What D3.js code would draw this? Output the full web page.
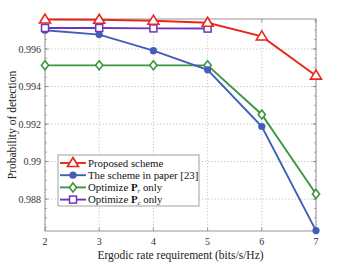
<!DOCTYPE html>
<html>
<head>
<meta charset="utf-8">
<script src="https://cdn.jsdelivr.net/npm/d3@7"></script>
<style>
  body { margin: 0; background: #fff; }
  text { font-family: "Liberation Serif", "DejaVu Serif", serif; }
</style>
</head>
<body>
<div id="chart"></div>
<script>
// chart data
var rates = [2, 3, 4, 5, 6, 7];
var proposed = [0.99757, 0.99756, 0.99751, 0.99740, 0.99667, 0.99458];
var paper23 = [0.99700, 0.99677, 0.99591, 0.99489, 0.99187, 0.98632];
var optPr = [0.99513, 0.99513, 0.99513, 0.99513, 0.99251, 0.98827];
var optPc = [0.99712, 0.99712, 0.99710, 0.99709];
var yTicks = [0.988, 0.99, 0.992, 0.994, 0.996];
var yTickLabels = ["0.988", "0.99", "0.992", "0.994", "0.996"];

var svgWidth = 349, svgHeight = 262;
var margin = { top: 19, right: 33, bottom: 31, left: 45 };
var chartWidth = svgWidth - margin.left - margin.right;
var chartHeight = svgHeight - margin.top - margin.bottom;

var svg = d3.select("#chart").append("svg")
  .attr("width", svgWidth)
  .attr("height", svgHeight);

var chartGroup = svg.append("g")
  .attr("transform", `translate(${margin.left}, ${margin.top})`);

var xScale = d3.scaleLinear().domain([2, 7]).range([0, chartWidth]);
var yScale = d3.scaleLinear().domain([0.9863, 0.9976]).range([chartHeight, 0]);

// grid
chartGroup.selectAll(".gx").data(rates).enter().append("line")
  .attr("x1", d => xScale(d)).attr("x2", d => xScale(d))
  .attr("y1", 0).attr("y2", chartHeight)
  .attr("stroke", "#b5b5b5").attr("stroke-width", 0.8)
  .attr("stroke-dasharray", "1.2,2");
chartGroup.selectAll(".gy").data(yTicks).enter().append("line")
  .attr("x1", 0).attr("x2", chartWidth)
  .attr("y1", d => yScale(d)).attr("y2", d => yScale(d))
  .attr("stroke", "#b5b5b5").attr("stroke-width", 0.8)
  .attr("stroke-dasharray", "1.2,2");

// minor ticks on y (left and right)
var minor = d3.range(0.9865, 0.9976, 0.0005);
[0, chartWidth].forEach(function(x0) {
  var dir = x0 === 0 ? 1 : -1;
  chartGroup.selectAll(null).data(minor).enter().append("line")
    .attr("x1", x0).attr("x2", x0 + dir * 2)
    .attr("y1", d => yScale(d)).attr("y2", d => yScale(d))
    .attr("stroke", "#777").attr("stroke-width", 0.6);
  chartGroup.selectAll(null).data(yTicks).enter().append("line")
    .attr("x1", x0).attr("x2", x0 + dir * 3.5)
    .attr("y1", d => yScale(d)).attr("y2", d => yScale(d))
    .attr("stroke", "#777").attr("stroke-width", 0.7);
});
// x ticks top and bottom
[0, chartHeight].forEach(function(y0) {
  var dir = y0 === 0 ? 1 : -1;
  chartGroup.selectAll(null).data(rates).enter().append("line")
    .attr("x1", d => xScale(d)).attr("x2", d => xScale(d))
    .attr("y1", y0).attr("y2", y0 + dir * 3.5)
    .attr("stroke", "#777").attr("stroke-width", 0.7);
});

// box
chartGroup.append("rect")
  .attr("width", chartWidth).attr("height", chartHeight)
  .attr("fill", "none").attr("stroke", "#8a8a8a").attr("stroke-width", 0.9);

// tick labels
chartGroup.selectAll(".xl").data(rates).enter().append("text")
  .attr("x", d => xScale(d)).attr("y", chartHeight + 14)
  .attr("text-anchor", "middle").attr("font-size", "10px").attr("fill", "#333")
  .text(d => d);
chartGroup.selectAll(".yl").data(yTicks).enter().append("text")
  .attr("x", -4).attr("y", d => yScale(d)).attr("dy", "0.35em")
  .attr("text-anchor", "end").attr("font-size", "10px").attr("fill", "#333")
  .text((d, i) => yTickLabels[i]);

// axis labels
chartGroup.append("text")
  .attr("x", chartWidth / 2).attr("y", chartHeight + 28)
  .attr("text-anchor", "middle").attr("font-size", "11.5px").attr("fill", "#222")
  .text("Ergodic rate requirement (bits/s/Hz)");
chartGroup.append("text")
  .attr("transform", "rotate(-90)")
  .attr("x", -chartHeight / 2).attr("y", -29)
  .attr("text-anchor", "middle").attr("font-size", "11.5px").attr("fill", "#222")
  .text("Probability of detection");

var series = [
  { name: "Proposed scheme", values: proposed, color: "#e8251f", marker: "triangle" },
  { name: "The scheme in paper [23]", values: paper23, color: "#3f5fb8", marker: "dot" },
  { name: "Optimize ", sub: "r", values: optPr, color: "#3d9640", marker: "diamond" },
  { name: "Optimize ", sub: "c", values: optPc, color: "#6f35bf", marker: "square" }
];

var line = d3.line().x((d, i) => xScale(rates[i])).y(d => yScale(d));

function drawMarker(g, type, color, x, y) {
  if (type === "triangle") {
    g.append("path").attr("d", `M${x},${y - 5.5}L${x + 5.5},${y + 3.5}L${x - 5.5},${y + 3.5}Z`)
      .attr("fill", "#fff").attr("stroke", color).attr("stroke-width", 1.6);
  } else if (type === "dot") {
    g.append("circle").attr("cx", x).attr("cy", y).attr("r", 3.6).attr("fill", color);
  } else if (type === "diamond") {
    g.append("path").attr("d", `M${x},${y - 4.5}L${x + 3.6},${y}L${x},${y + 4.5}L${x - 3.6},${y}Z`)
      .attr("fill", "#fff").attr("stroke", color).attr("stroke-width", 1.6);
  } else {
    g.append("rect").attr("x", x - 3.5).attr("y", y - 3.5).attr("width", 7).attr("height", 7)
      .attr("fill", "#fff").attr("stroke", color).attr("stroke-width", 1.5);
  }
}

// draw in order: green, blue, purple, red on top
[2, 1, 3, 0].forEach(function(k) {
  var s = series[k];
  var g = chartGroup.append("g");
  g.append("path").datum(s.values)
    .attr("d", line).attr("fill", "none")
    .attr("stroke", s.color).attr("stroke-width", 1.9);
  s.values.forEach(function(v, i) {
    drawMarker(g, s.marker, s.color, xScale(rates[i]), yScale(v));
  });
});

// legend
var legend = chartGroup.append("g").attr("transform", "translate(13, 136)");
legend.append("rect").attr("width", 141).attr("height", 51)
  .attr("fill", "#fff").attr("stroke", "#8a8a8a").attr("stroke-width", 0.8);
series.forEach(function(s, i) {
  var y = 8 + i * 12.2;
  var row = legend.append("g");
  row.append("line").attr("x1", 2).attr("x2", 28).attr("y1", y).attr("y2", y)
    .attr("stroke", s.color).attr("stroke-width", 1.9);
  drawMarker(row, s.marker, s.color, 15, y);
  var t = row.append("text").attr("x", 30).attr("y", y).attr("dy", "0.35em")
    .attr("font-size", "10.8px").attr("fill", "#111");
  t.append("tspan").text(s.name);
  if (s.sub) {
    t.append("tspan").attr("font-weight", "bold").text("P");
    t.append("tspan").attr("font-size", "7px").attr("dy", "2").attr("font-style", "italic").text(s.sub);
    t.append("tspan").attr("dy", "-2").text(" only");
  }
});
</script>
</body>
</html>
